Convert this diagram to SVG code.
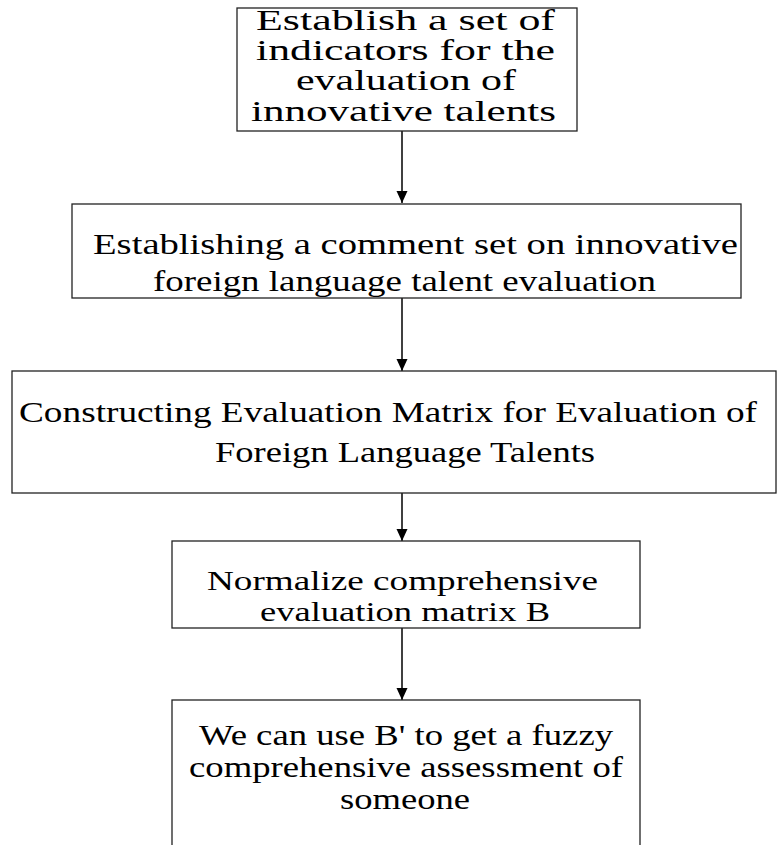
<svg xmlns="http://www.w3.org/2000/svg" width="782" height="845" viewBox="0 0 782 845">
<style>
.box{fill:#fff;stroke:#222;stroke-width:1.3}
.t{font-family:"Liberation Serif","Times New Roman",serif;font-size:30px;fill:#000}
.s{font-size:28px}
.c{stroke:#000;stroke-width:1.5;fill:none}
</style>
<defs>
<marker id="arr" markerWidth="12" markerHeight="12" refX="12" refY="6" orient="auto" markerUnits="userSpaceOnUse" viewBox="0 0 12 12">
<path d="M0,0.5 L12,6 L0,11.5 Z" fill="#000"/>
</marker>
</defs>
<rect width="782" height="845" fill="#fff"/>
<g id="connectors">
<line class="c" x1="402" y1="131" x2="402" y2="203" marker-end="url(#arr)"/>
<line class="c" x1="402" y1="298" x2="402" y2="371" marker-end="url(#arr)"/>
<line class="c" x1="402" y1="493" x2="402" y2="541" marker-end="url(#arr)"/>
<line class="c" x1="402" y1="628" x2="402" y2="700" marker-end="url(#arr)"/>
</g>
<g id="n1">
<rect class="box" x="237" y="8" width="340" height="123"/>
<text class="t" x="256" y="30" textLength="299" lengthAdjust="spacingAndGlyphs">Establish a set of</text>
<text class="t" x="256" y="60" textLength="299" lengthAdjust="spacingAndGlyphs">indicators for the</text>
<text class="t" x="296" y="90" textLength="220" lengthAdjust="spacingAndGlyphs">evaluation of</text>
<text class="t" x="251" y="121" textLength="305" lengthAdjust="spacingAndGlyphs">innovative talents</text>
</g>
<g id="n2">
<rect class="box" x="72" y="204" width="669" height="94"/>
<text class="t" x="93" y="254" textLength="645" lengthAdjust="spacingAndGlyphs">Establishing a comment set on innovative</text>
<text class="t" x="153" y="291" textLength="503" lengthAdjust="spacingAndGlyphs">foreign language talent evaluation</text>
</g>
<g id="n3">
<rect class="box" x="12" y="371" width="764" height="122"/>
<text class="t" x="19" y="422" textLength="738" lengthAdjust="spacingAndGlyphs">Constructing Evaluation Matrix for Evaluation of</text>
<text class="t" x="215" y="462" textLength="380" lengthAdjust="spacingAndGlyphs">Foreign Language Talents</text>
</g>
<g id="n4">
<rect class="box" x="172" y="541" width="468" height="87"/>
<text class="t s" x="207" y="590" textLength="391" lengthAdjust="spacingAndGlyphs">Normalize comprehensive</text>
<text class="t s" x="260" y="621" textLength="290" lengthAdjust="spacingAndGlyphs">evaluation matrix B</text>
</g>
<g id="n5">
<rect class="box" x="172" y="700" width="468" height="160"/>
<text class="t" x="199" y="745" textLength="414" lengthAdjust="spacingAndGlyphs">We can use B' to get a fuzzy</text>
<text class="t" x="189" y="777" textLength="434" lengthAdjust="spacingAndGlyphs">comprehensive assessment of</text>
<text class="t" x="340" y="809" textLength="130" lengthAdjust="spacingAndGlyphs">someone</text>
</g>
</svg>
